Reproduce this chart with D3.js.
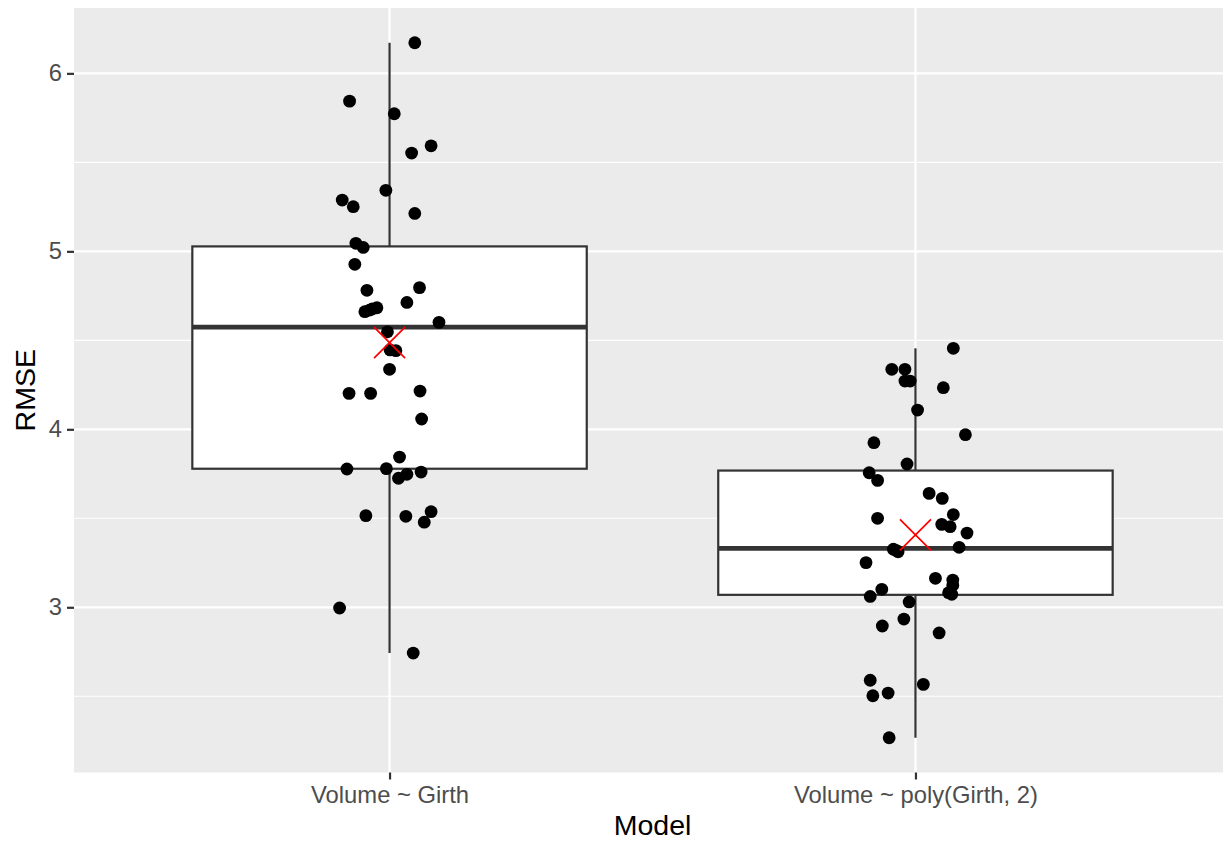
<!DOCTYPE html>
<html>
<head>
<meta charset="utf-8">
<script src="https://cdn.jsdelivr.net/npm/d3@7"></script>
<style>
  html, body { margin: 0; padding: 0; background: #ffffff; }
  svg { display: block; font-family: "Liberation Sans", Arial, sans-serif; }
</style>
</head>
<body>
<svg id="chart" width="1223" height="841"></svg>
<script>
// Model labels on the x axis
const categories = ["Volume ~ Girth", "Volume ~ poly(Girth, 2)"];

// Resampled RMSE for the linear model
const rmseLinear = [
  6.172, 5.844, 5.773, 5.593, 5.552, 5.343, 5.288, 5.251, 5.213, 5.045,
  5.022, 4.927, 4.781, 4.796, 4.713, 4.683, 4.670, 4.661, 4.601, 4.548,
  4.446, 4.442, 4.337, 4.202, 4.202, 4.215, 4.058, 3.844, 3.777, 3.779,
  3.725, 3.747, 3.760, 3.515, 3.511, 3.537, 3.478, 2.996, 2.743, 4.676
];
// Horizontal jitter of each point, in category units
const jitterLinear = [
  0.048, -0.076, 0.009, 0.079, 0.042, -0.007, -0.090, -0.069, 0.048, -0.064,
  -0.050, -0.066, -0.043, 0.057, 0.033, -0.024, -0.038, -0.047, 0.094, -0.004,
  0.001, 0.012, 0.000, -0.077, -0.036, 0.058, 0.061, 0.019, -0.081, -0.006,
  0.017, 0.033, 0.060, -0.045, 0.031, 0.079, 0.066, -0.095, 0.045, -0.033
];

// Resampled RMSE for the quadratic model
const rmsePoly = [
  4.455, 4.337, 4.337, 4.271, 4.271, 4.234, 4.108, 3.970, 3.925, 3.805,
  3.756, 3.713, 3.640, 3.612, 3.500, 3.521, 3.466, 3.453, 3.417, 3.337,
  3.326, 3.312, 3.320, 3.251, 3.163, 3.153, 3.124, 3.082, 3.073, 3.101,
  3.061, 3.030, 2.934, 2.895, 2.856, 2.590, 2.503, 2.518, 2.567, 2.267
];
const jitterPoly = [
  0.072, -0.045, -0.020, -0.020, -0.010, 0.053, 0.004, 0.095, -0.079, -0.016,
  -0.088, -0.072, 0.026, 0.051, -0.072, 0.072, 0.050, 0.066, 0.098, 0.083,
  -0.042, -0.033, -0.037, -0.094, 0.038, 0.071, 0.071, 0.063, 0.069, -0.064,
  -0.086, -0.012, -0.022, -0.063, 0.045, -0.086, -0.081, -0.052, 0.015, -0.050
];

const yTicks = [3, 4, 5, 6];
const yMinorTicks = [2.5, 3.5, 4.5, 5.5];

const groups = [
  { name: categories[0], pos: 1, values: rmseLinear, jitter: jitterLinear },
  { name: categories[1], pos: 2, values: rmsePoly, jitter: jitterPoly }
];

// Panel geometry
const panel = { left: 74, right: 1231, top: 8, bottom: 772.5 };

const svg = d3.select("#chart");

// Discrete positions 1..2 with 0.6 expansion on each side
const x = d3.scaleLinear().domain([0.4, 2.6]).range([panel.left, panel.right]);

// Continuous y with 5% expansion of the data range
const allValues = rmseLinear.concat(rmsePoly);
const [vmin, vmax] = d3.extent(allValues);
const pad = (vmax - vmin) * 0.05;
const y = d3.scaleLinear().domain([vmin - pad, vmax + pad]).range([panel.bottom, panel.top]);

// Panel background
svg.append("rect")
  .attr("x", panel.left).attr("y", panel.top)
  .attr("width", panel.right - panel.left).attr("height", panel.bottom - panel.top)
  .attr("fill", "#EBEBEB");

const grid = svg.append("g");
grid.selectAll("line.minor").data(yMinorTicks).join("line")
  .attr("x1", panel.left).attr("x2", panel.right)
  .attr("y1", d => y(d)).attr("y2", d => y(d))
  .attr("stroke", "#ffffff").attr("stroke-width", 1.1);
grid.selectAll("line.majory").data(yTicks).join("line")
  .attr("x1", panel.left).attr("x2", panel.right)
  .attr("y1", d => y(d)).attr("y2", d => y(d))
  .attr("stroke", "#ffffff").attr("stroke-width", 2.2);
grid.selectAll("line.majorx").data(groups).join("line")
  .attr("x1", d => x(d.pos)).attr("x2", d => x(d.pos))
  .attr("y1", panel.top).attr("y2", panel.bottom)
  .attr("stroke", "#ffffff").attr("stroke-width", 2.2);

// Boxplot statistics (quantile type 7)
groups.forEach(g => {
  const s = g.values.slice().sort(d3.ascending);
  const q1 = d3.quantile(s, 0.25), med = d3.quantile(s, 0.5), q3 = d3.quantile(s, 0.75);
  const iqr = q3 - q1;
  g.q1 = q1; g.med = med; g.q3 = q3;
  g.lo = d3.min(s.filter(v => v >= q1 - 1.5 * iqr));
  g.hi = d3.max(s.filter(v => v <= q3 + 1.5 * iqr));
  g.mean = d3.mean(s);
});

const boxWidth = 0.75;
const boxes = svg.append("g");
groups.forEach(g => {
  const bx0 = x(g.pos - boxWidth / 2), bx1 = x(g.pos + boxWidth / 2), cx = x(g.pos);
  boxes.append("line").attr("x1", cx).attr("x2", cx).attr("y1", y(g.q3)).attr("y2", y(g.hi))
    .attr("stroke", "#333333").attr("stroke-width", 2.2);
  boxes.append("line").attr("x1", cx).attr("x2", cx).attr("y1", y(g.q1)).attr("y2", y(g.lo))
    .attr("stroke", "#333333").attr("stroke-width", 2.2);
  boxes.append("rect").attr("x", bx0).attr("y", y(g.q3))
    .attr("width", bx1 - bx0).attr("height", y(g.q1) - y(g.q3))
    .attr("fill", "#ffffff").attr("stroke", "#333333").attr("stroke-width", 2.2);
  boxes.append("line").attr("x1", bx0).attr("x2", bx1).attr("y1", y(g.med)).attr("y2", y(g.med))
    .attr("stroke", "#333333").attr("stroke-width", 4.8);
});

// Jittered observations
const pts = svg.append("g");
groups.forEach(g => {
  pts.selectAll(null).data(g.values.map((v, i) => ({ v, j: g.jitter[i] }))).join("circle")
    .attr("cx", d => x(g.pos + d.j))
    .attr("cy", d => y(d.v))
    .attr("r", 6.4)
    .attr("fill", "#000000");
});

// Group means as red crosses
const half = 15.5;
const means = svg.append("g");
groups.forEach(g => {
  const cx = x(g.pos), cy = y(g.mean);
  means.append("path")
    .attr("d", `M${cx - half},${cy - half}L${cx + half},${cy + half}M${cx - half},${cy + half}L${cx + half},${cy - half}`)
    .attr("stroke", "#FF0000").attr("stroke-width", 1.7).attr("fill", "none");
});

// Axes
const tickFont = 23.8;
const yAxis = svg.append("g").attr("transform", `translate(${panel.left},0)`)
  .call(d3.axisLeft(y).tickValues(yTicks).tickSize(7).tickPadding(5).tickFormat(d3.format("d")));
const xAxis = svg.append("g").attr("transform", `translate(0,${panel.bottom})`)
  .call(d3.axisBottom(x).tickValues([1, 2]).tickSize(7).tickPadding(7)
    .tickFormat(d => categories[d - 1]));
[yAxis, xAxis].forEach(a => {
  a.select(".domain").remove();
  a.selectAll(".tick line").attr("stroke", "#333333").attr("stroke-width", 2.2);
  a.selectAll(".tick text").attr("fill", "#4D4D4D")
    .style("font-size", tickFont + "px")
    .style("font-family", "'Liberation Sans', Arial, sans-serif");
});

// Axis titles
svg.append("text")
  .attr("x", (panel.left + panel.right) / 2).attr("y", 835)
  .attr("text-anchor", "middle").attr("fill", "#000000")
  .style("font-size", "28.5px").text("Model");
svg.append("text")
  .attr("transform", `translate(35,${(panel.top + panel.bottom) / 2}) rotate(-90)`)
  .attr("text-anchor", "middle").attr("fill", "#000000")
  .style("font-size", "28.5px").text("RMSE");
</script>
</body>
</html>
